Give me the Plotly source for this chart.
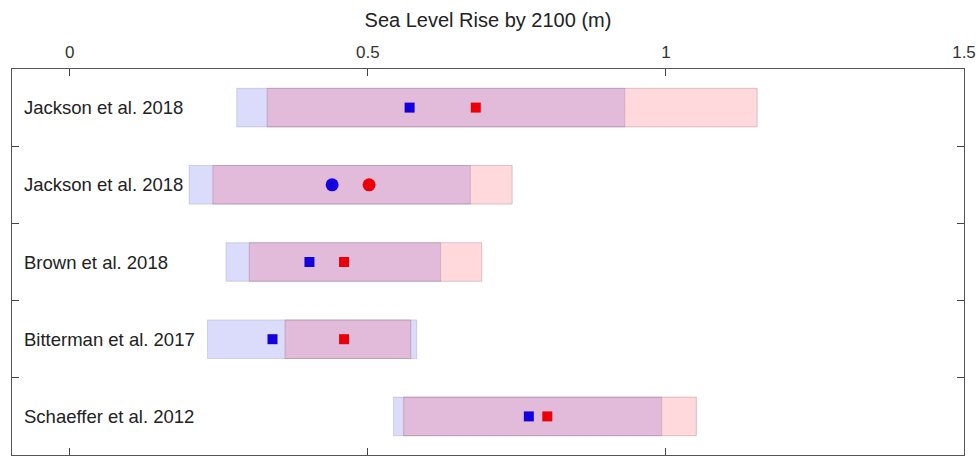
import plotly.graph_objects as go

# Studies, top to bottom
studies = ["Jackson et al. 2018", "Jackson et al. 2018", "Brown et al. 2018",
           "Bitterman et al. 2017", "Schaeffer et al. 2012"]

# Likely range (m) for the lower scenario (blue) and higher scenario (red)
blue_low = [0.280, 0.200, 0.262, 0.231, 0.543]
blue_high = [0.931, 0.672, 0.622, 0.582, 0.993]
red_low = [0.331, 0.240, 0.301, 0.361, 0.560]
red_high = [1.153, 0.742, 0.691, 0.572, 1.051]

# Central estimates (m)
blue_mid = [0.570, 0.440, 0.402, 0.340, 0.770]
red_mid = [0.681, 0.502, 0.460, 0.460, 0.801]

# Marker shape per study
symbols = ["square", "circle", "square", "square", "square"]

n = len(studies)
ypos = [n - 1 - i for i in range(n)]

fig = go.Figure()

fig.add_trace(go.Bar(
    y=ypos, base=blue_low, x=[h - l for l, h in zip(blue_low, blue_high)],
    orientation="h", width=0.5,
    marker=dict(color="rgba(40,40,240,0.17)",
                line=dict(color="rgba(120,120,160,0.25)", width=1)),
    hoverinfo="skip", showlegend=False,
))
fig.add_trace(go.Bar(
    y=ypos, base=red_low, x=[h - l for l, h in zip(red_low, red_high)],
    orientation="h", width=0.5,
    marker=dict(color="rgba(255,30,50,0.17)",
                line=dict(color="rgba(140,90,110,0.3)", width=1)),
    hoverinfo="skip", showlegend=False,
))

sizes = [13 if s == "circle" else 10 for s in symbols]
fig.add_trace(go.Scatter(
    x=blue_mid, y=ypos, mode="markers",
    marker=dict(symbol=symbols, size=sizes, color="#1400dc", opacity=1, line=dict(width=0)),
    showlegend=False,
))
fig.add_trace(go.Scatter(
    x=red_mid, y=ypos, mode="markers",
    marker=dict(symbol=symbols, size=sizes, color="#eb000a", opacity=1, line=dict(width=0)),
    showlegend=False,
))

for name, y in zip(studies, ypos):
    fig.add_annotation(x=-0.080, y=y, text=name, showarrow=False,
                       xanchor="left", yanchor="middle",
                       font=dict(size=18.5, color="#222222"))

fig.update_layout(
    width=980, height=456,
    margin=dict(l=12, r=16, t=69, b=1),
    barmode="overlay",
    plot_bgcolor="white", paper_bgcolor="white",
    font=dict(family="Liberation Sans, Arial, sans-serif", color="#333333"),
)

fig.update_xaxes(
    side="top", range=[-0.097, 1.5],
    tickvals=[0, 0.5, 1, 1.5], ticktext=["0", "0.5", "1", "1.5"],
    ticks="inside", ticklen=7, tickcolor="#444444",
    showline=True, linecolor="#555555", linewidth=1, mirror="ticks",
    showgrid=False, zeroline=False,
    tickfont=dict(size=17, color="#333333"), ticklabelstandoff=3,
    title=dict(text="Sea Level Rise by 2100 (m)", font=dict(size=20, color="#222222"), standoff=10),
)
fig.update_yaxes(
    range=[-0.5, n - 0.5],
    tickvals=[i + 0.5 for i in range(n - 1)], showticklabels=False,
    ticks="inside", ticklen=7, tickcolor="#444444",
    showline=True, linecolor="#555555", linewidth=1, mirror="ticks",
    showgrid=False, zeroline=False,
)

fig.write_html("out.html")
